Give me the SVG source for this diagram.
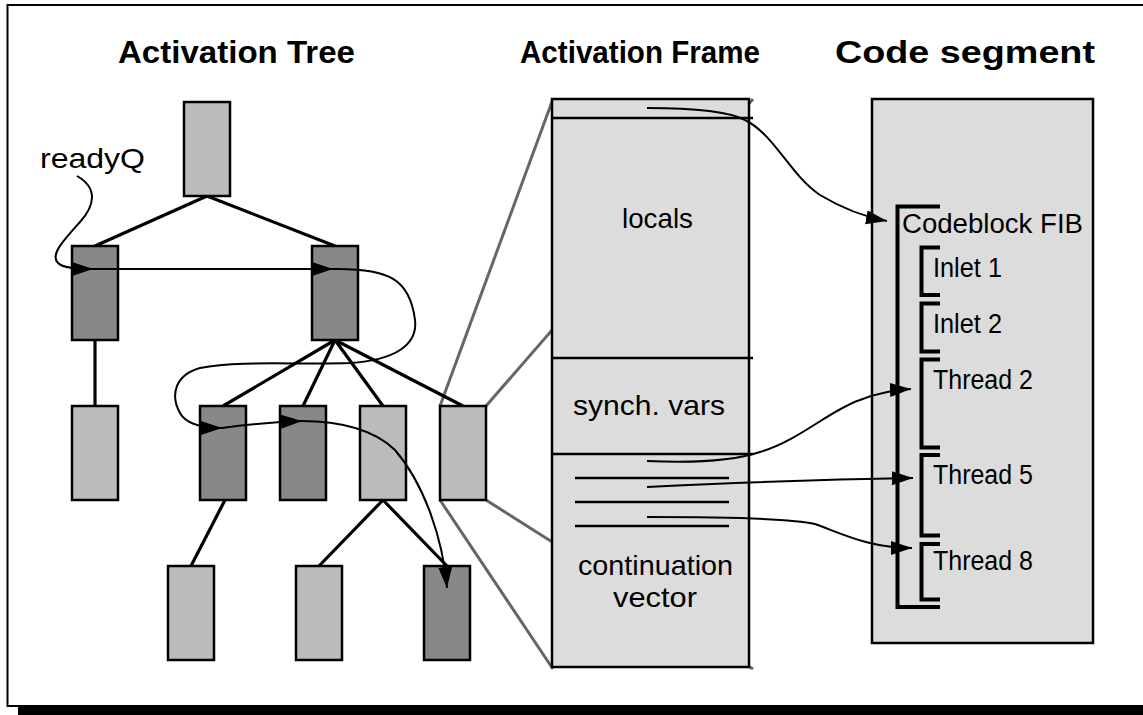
<svg xmlns="http://www.w3.org/2000/svg" width="1143" height="715" viewBox="0 0 1143 715">
<defs>
<marker id="ah" markerUnits="userSpaceOnUse" markerWidth="22" markerHeight="16" refX="21" refY="7" orient="auto">
<path d="M0,0 L21,7 L0,14 z" fill="#000"/>
</marker>
<style>
.t{font-family:"Liberation Sans",Arial,sans-serif;fill:#000}
.ttl{font-weight:bold;font-size:31px}
.lbl{font-size:28px}
.cl{font-size:27px}
.lt{fill:#bbbbbb;stroke:#000;stroke-width:2.5}
.dk{fill:#888888;stroke:#000;stroke-width:2.5}
.edge{stroke:#000;stroke-width:3.2;fill:none}
.zoom{stroke:#666;stroke-width:3;fill:none}
.box{fill:#dcdcdc;stroke:#000;stroke-width:2.5}
.sep{stroke:#000;stroke-width:2.5;fill:none}
.br{stroke:#000;stroke-width:4;fill:none}
.arr{stroke:#000;stroke-width:2;fill:none;marker-end:url(#ah)}
</style>
</defs>
<rect x="0" y="0" width="1143" height="715" fill="#fff"/>
<rect x="18" y="707" width="1125" height="8" fill="#000"/>
<path d="M1145,5 L7.5,5 L7.5,706 L1145,706" fill="none" stroke="#000" stroke-width="2"/>

<g id="titles">
<text class="t ttl" x="118" y="63" textLength="237" lengthAdjust="spacingAndGlyphs">Activation Tree</text>
<text class="t ttl" x="520" y="63" textLength="240" lengthAdjust="spacingAndGlyphs">Activation Frame</text>
<text class="t ttl" x="835" y="63" textLength="260" lengthAdjust="spacingAndGlyphs">Code segment</text>
</g>

<g id="zoom-lines">
<line class="zoom" x1="440" y1="406" x2="553" y2="99"/>
<line class="zoom" x1="486" y1="406" x2="753" y2="99"/>
<line class="zoom" x1="486" y1="500" x2="753" y2="669"/>
<line class="zoom" x1="440" y1="500" x2="553" y2="669"/>
</g>

<g id="activation-frame">
<rect class="box" x="552" y="99" width="197" height="568"/>
<line class="sep" x1="552" y1="118" x2="753" y2="118"/>
<line class="sep" x1="552" y1="358" x2="753" y2="358"/>
<line class="sep" x1="552" y1="454" x2="753" y2="454"/>
<line class="sep" x1="575" y1="478" x2="729" y2="478"/>
<line class="sep" x1="575" y1="502" x2="729" y2="502"/>
<line class="sep" x1="575" y1="526" x2="729" y2="526"/>
<text class="t lbl" x="622" y="228" textLength="71" lengthAdjust="spacingAndGlyphs">locals</text>
<text class="t lbl" x="573" y="415" textLength="152" lengthAdjust="spacingAndGlyphs">synch. vars</text>
<text class="t lbl" x="578" y="575" textLength="155" lengthAdjust="spacingAndGlyphs">continuation</text>
<text class="t lbl" x="613" y="607" textLength="84" lengthAdjust="spacingAndGlyphs">vector</text>
</g>

<g id="code-segment">
<rect class="box" x="872" y="99" width="221" height="544"/>
<path class="br" stroke-width="5" d="M940,206.5 L897.5,206.5 L897.5,607 L940,607"/>
<path class="br" d="M940,247.5 L921.5,247.5 L921.5,295 L940,295"/>
<path class="br" d="M940,303.5 L921.5,303.5 L921.5,351.5 L940,351.5"/>
<path class="br" d="M940,359.5 L921.5,359.5 L921.5,447.5 L940,447.5"/>
<path class="br" d="M940,455 L921.5,455 L921.5,535.5 L940,535.5"/>
<path class="br" d="M940,544 L921.5,544 L921.5,599.5 L940,599.5"/>
<text class="t cl" x="902" y="233" textLength="181" lengthAdjust="spacingAndGlyphs">Codeblock  FIB</text>
<text class="t cl" x="933" y="277" textLength="69" lengthAdjust="spacingAndGlyphs">Inlet 1</text>
<text class="t cl" x="933" y="333" textLength="69" lengthAdjust="spacingAndGlyphs">Inlet 2</text>
<text class="t cl" x="933" y="389" textLength="100" lengthAdjust="spacingAndGlyphs">Thread 2</text>
<text class="t cl" x="933" y="484" textLength="100" lengthAdjust="spacingAndGlyphs">Thread 5</text>
<text class="t cl" x="933" y="570" textLength="100" lengthAdjust="spacingAndGlyphs">Thread 8</text>
</g>

<g id="tree-edges">
<line class="edge" x1="207" y1="196" x2="95" y2="246"/>
<line class="edge" x1="207" y1="196" x2="335" y2="246"/>
<line class="edge" x1="95" y1="340" x2="95" y2="406"/>
<line class="edge" x1="335" y1="340" x2="223" y2="406"/>
<line class="edge" x1="335" y1="340" x2="303" y2="406"/>
<line class="edge" x1="335" y1="340" x2="383" y2="406"/>
<line class="edge" x1="335" y1="340" x2="463" y2="406"/>
<line class="edge" x1="225" y1="500" x2="191" y2="566"/>
<line class="edge" x1="383" y1="500" x2="319" y2="566"/>
<line class="edge" x1="383" y1="500" x2="447" y2="566"/>
</g>

<g id="node-root"><rect class="lt" x="184" y="102" width="46" height="94"/></g>
<g id="node-l1"><rect class="dk" x="72" y="246" width="46" height="94"/></g>
<g id="node-r1"><rect class="dk" x="312" y="246" width="46" height="94"/></g>
<g id="node-l2"><rect class="lt" x="72" y="406" width="46" height="94"/></g>
<g id="node-a"><rect class="dk" x="200" y="406" width="46" height="94"/></g>
<g id="node-b"><rect class="dk" x="280" y="406" width="46" height="94"/></g>
<g id="node-c"><rect class="lt" x="360" y="406" width="46" height="94"/></g>
<g id="node-d"><rect class="lt" x="440" y="406" width="46" height="94"/></g>
<g id="node-e"><rect class="lt" x="168" y="566" width="46" height="94"/></g>
<g id="node-f"><rect class="lt" x="296" y="566" width="46" height="94"/></g>
<g id="node-g"><rect class="dk" x="424" y="566" width="46" height="94"/></g>

<g id="readyq-label">
<text class="t lbl" x="40" y="168" textLength="105" lengthAdjust="spacingAndGlyphs">readyQ</text>
</g>

<g id="connectors">
<path class="arr" d="M77,176 C98,188 95,205 80,222 C62,242 50,255 58,263 C63,268 75,269 93,269"/>
<path class="arr" d="M93,269 L333,269"/>
<path class="arr" d="M333,269 C390,268 410,280 415,320 C418,345 395,360 350,363 C300,365 240,360 200,368 C175,375 170,395 180,413 C186,424 200,428 222,428"/>
<path class="arr" d="M222,428 C250,424 275,422 302,421"/>
<path class="arr" d="M302,421 C340,421 375,430 395,450 C425,485 443,540 447,588"/>
<path class="arr" d="M647,108 C700,108 730,112 745,120 C775,135 790,175 820,195 C845,210 865,217 887,221"/>
<path class="arr" d="M647,461 C690,463 730,462 760,452 C800,440 830,410 860,400 C875,394 890,390 911,389"/>
<path class="arr" d="M647,487 C750,482 850,479 913,478"/>
<path class="arr" d="M647,517 C720,517 790,518 815,524 C845,535 870,548 912,548"/>
</g>
</svg>
